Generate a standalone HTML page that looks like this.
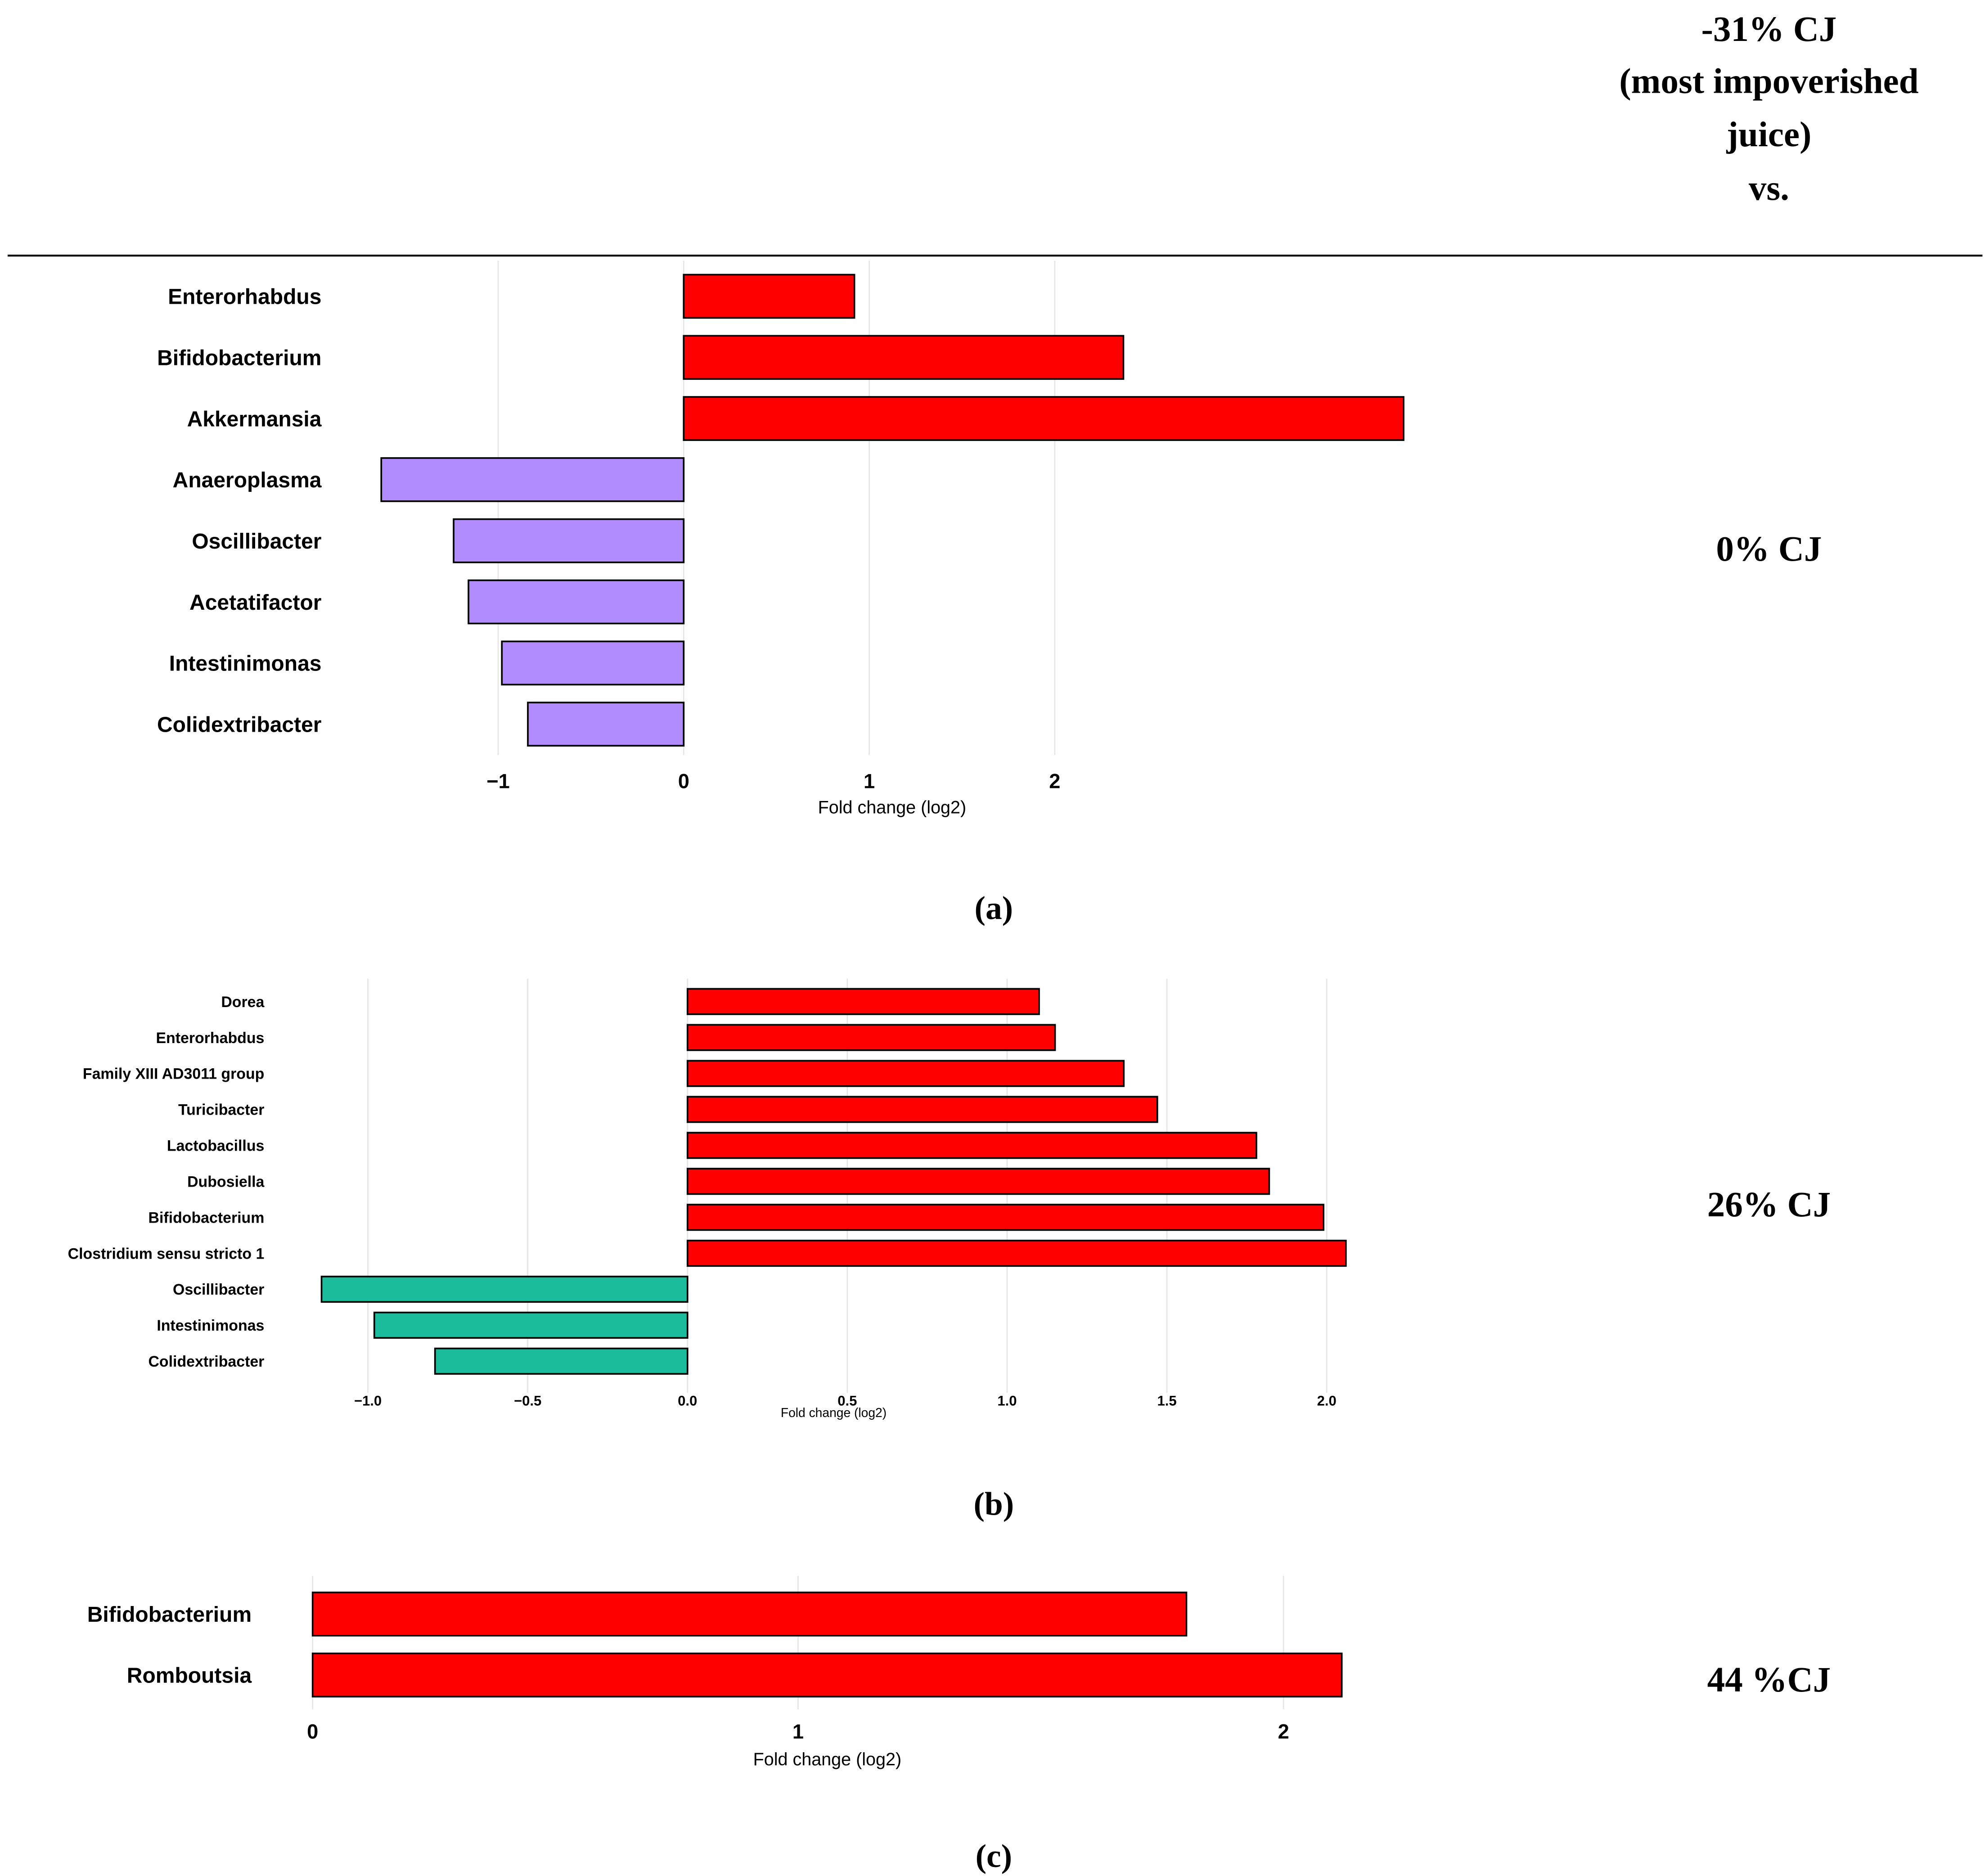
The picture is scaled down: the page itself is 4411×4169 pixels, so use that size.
<!DOCTYPE html>
<html><head><meta charset="utf-8"><style>
html,body{margin:0;padding:0;background:#fff;}
svg{display:block;}
.lab{font-family:"Liberation Sans",sans-serif;font-weight:bold;fill:#000;}
.ser{font-family:"Liberation Serif",serif;font-weight:bold;fill:#000;}
</style></head><body>
<svg id="chart" width="4411" height="4169" viewBox="0 0 1562 1476" xmlns="http://www.w3.org/2000/svg">
<rect width="1562" height="1476" fill="#fff"/>
<line x1="6" y1="201" x2="1560" y2="201" stroke="#000" stroke-width="1.5"/>
<g class="ser" font-size="28" text-anchor="middle">
<text x="1392" y="32">-31% CJ</text>
<text x="1392" y="73">(most impoverished</text>
<text x="1392" y="115">juice)</text>
<text x="1392" y="157">vs.</text>
</g>
<text class="ser" font-size="28" x="1392" y="441" text-anchor="middle">0% CJ</text>
<text class="ser" font-size="26" x="782" y="723" text-anchor="middle">(a)</text>
<text class="ser" font-size="28" x="1392" y="957" text-anchor="middle">26% CJ</text>
<text class="ser" font-size="26" x="782" y="1192" text-anchor="middle">(b)</text>
<text class="ser" font-size="28" x="1392" y="1331" text-anchor="middle">44 %CJ</text>
<text class="ser" font-size="26" x="782" y="1469" text-anchor="middle">(c)</text>
</svg>
<script>
const aCategories=["Enterorhabdus","Bifidobacterium","Akkermansia","Anaeroplasma","Oscillibacter","Acetatifactor","Intestinimonas","Colidextribacter"];
const aValues=[0.92,2.37,3.88,-1.63,-1.24,-1.16,-0.98,-0.84];
const aTicks=[-1,0,1,2];
const aTickLabels=["\u22121","0","1","2"];
const bCategories=["Dorea","Enterorhabdus","Family XIII AD3011 group","Turicibacter","Lactobacillus","Dubosiella","Bifidobacterium","Clostridium sensu stricto 1","Oscillibacter","Intestinimonas","Colidextribacter"];
const bValues=[1.10,1.15,1.365,1.47,1.78,1.82,1.99,2.06,-1.145,-0.98,-0.79];
const bTicks=[-1,-0.5,0,0.5,1,1.5,2];
const bTickLabels=["\u22121.0","\u22120.5","0.0","0.5","1.0","1.5","2.0"];
const cCategories=["Bifidobacterium","Romboutsia"];
const cValues=[1.80,2.12];
const cTicks=[0,1,2];
const cTickLabels=["0","1","2"];

const NS="http://www.w3.org/2000/svg";
const svg=document.getElementById('chart');
function mk(tag,attrs,parent){const e=document.createElementNS(NS,tag);for(const k in attrs)e.setAttribute(k,attrs[k]);(parent||svg).appendChild(e);return e;}

function panel(p,cats,vals,ticks,tlabs,cfg){
  const g=mk('g',{});
  
  
  const x=v=>cfg.x0+v*cfg.unit;
  const y=i=>cfg.y0+i*cfg.step;
  ticks.forEach((t,i)=>{
    const l=mk('line',{x1:x(t),x2:x(t),y1:cfg.gy1,y2:cfg.gy2,stroke:'#e6e6e6','stroke-width':1},g);
    
    
    const tx=mk('text',{x:x(t),y:cfg.ty,'font-size':cfg.tfs,'text-anchor':'middle',class:'lab'},g);
    tx.textContent=tlabs[i];
    
    
  });
  cats.forEach((c,i)=>{
    const v=vals[i];
    const r=mk('rect',{x:Math.min(x(0),x(v)),y:y(i)-cfg.bh/2,width:Math.abs(x(v)-x(0)),height:cfg.bh,fill:v>=0?'#ff0000':cfg.neg,stroke:'#000','stroke-width':1.3},g);
    
    
    const t=mk('text',{x:cfg.lx,y:y(i)+cfg.lfs*0.36,'font-size':cfg.lfs,'text-anchor':'end',class:'lab'},g);
    t.textContent=c;
    
    
  });
  const at=mk('text',{x:cfg.atx,y:cfg.aty,'font-size':cfg.afs,'text-anchor':'middle','font-family':'Liberation Sans, sans-serif',fill:'#000'},g);
  at.textContent='Fold change (log2)';
  
  
}
panel('a',aCategories,aValues,aTicks,aTickLabels,{x0:538,unit:146,y0:233,step:48.1,bh:34,gy1:205,gy2:594,ty:620,tfs:16,lx:253,lfs:17,neg:'#b08cff',atx:702,aty:640,afs:14});
panel('b',bCategories,bValues,bTicks,bTickLabels,{x0:541,unit:251.5,y0:788,step:28.3,bh:20,gy1:770,gy2:1096,ty:1106,tfs:11,lx:208,lfs:12,neg:'#1abc9c',atx:656,aty:1115,afs:10});
panel('c',cCategories,cValues,cTicks,cTickLabels,{x0:246,unit:382,y0:1270,step:48,bh:34,gy1:1240,gy2:1345,ty:1368,tfs:16,lx:198,lfs:17,neg:'#b08cff',atx:651,aty:1389,afs:14});
</script>
</body></html>
